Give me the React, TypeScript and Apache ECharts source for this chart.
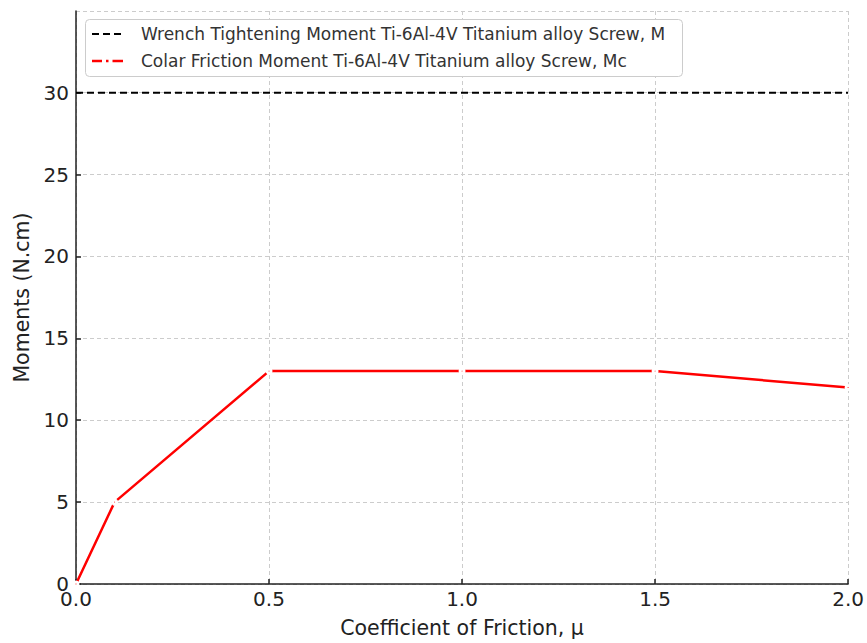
import React, { useEffect, useRef } from "react";
import * as echarts from "echarts";

const frictionX = [0.0, 0.1, 0.5, 1.0, 1.5, 2.0];
const colarMoment = [0, 5, 13, 13, 13, 12];
const wrenchX = [0.0, 2.0];
const wrenchMoment = [30, 30];
const seriesNames = [
  "Wrench Tightening Moment Ti-6Al-4V Titanium alloy Screw, M",
  "Colar Friction Moment Ti-6Al-4V Titanium alloy Screw, Mc",
];

const FONT = "DejaVu Sans";

export default function App() {
  const ref = useRef<HTMLDivElement>(null);
  useEffect(() => {
    if (!ref.current) return;
    const chart = echarts.init(ref.current, undefined, { renderer: "svg" });
    const legendText = { fontFamily: FONT, fontSize: 17, fill: "#333333" };
    chart.setOption({
      animation: false,
      backgroundColor: "#ffffff",
      textStyle: { fontFamily: FONT },
      grid: { left: 76, right: 18, top: 11, bottom: 58, containLabel: false },
      graphic: [
        {
          type: "rect",
          shape: { x: 85.5, y: 19.5, width: 597, height: 57, r: 4 },
          style: { fill: "#ffffff", stroke: "#cccccc", lineWidth: 1 },
          z: 100,
        },
        {
          type: "line",
          shape: { x1: 92, y1: 34, x2: 123, y2: 34 },
          style: { stroke: "#000000", lineWidth: 2, lineDash: [7, 4] },
          z: 101,
        },
        {
          type: "line",
          shape: { x1: 92, y1: 61, x2: 102, y2: 61 },
          style: { stroke: "#ff0000", lineWidth: 2.5 },
          z: 101,
        },
        {
          type: "line",
          shape: { x1: 106, y1: 61, x2: 108.5, y2: 61 },
          style: { stroke: "#ff0000", lineWidth: 2.5 },
          z: 101,
        },
        {
          type: "line",
          shape: { x1: 112.5, y1: 61, x2: 123, y2: 61 },
          style: { stroke: "#ff0000", lineWidth: 2.5 },
          z: 101,
        },
        {
          type: "text",
          x: 141,
          y: 34,
          style: { ...legendText, text: seriesNames[0], verticalAlign: "middle" },
          z: 101,
        },
        {
          type: "text",
          x: 141,
          y: 61,
          style: { ...legendText, text: seriesNames[1], verticalAlign: "middle" },
          z: 101,
        },
      ],
      xAxis: {
        type: "value",
        min: 0,
        max: 2,
        interval: 0.5,
        name: "Coefficient of Friction, μ",
        nameLocation: "middle",
        nameGap: 33,
        nameTextStyle: { fontFamily: FONT, fontSize: 20.5, color: "#222" },
        axisLine: { show: true, lineStyle: { color: "#222", width: 1.5 } },
        axisTick: { show: true, inside: true, length: 5, lineStyle: { color: "#222", width: 1.5 } },
        axisLabel: {
          fontFamily: FONT,
          fontSize: 20,
          color: "#222",
          margin: 5,
          formatter: (v: number) => v.toFixed(1),
        },
        splitLine: { show: true, lineStyle: { color: "#cccccc", type: [4, 3], width: 1 } },
      },
      yAxis: {
        type: "value",
        min: 0,
        max: 34.99,
        interval: 5,
        name: "Moments (N.cm)",
        nameLocation: "middle",
        nameGap: 39,
        nameRotate: 90,
        nameTextStyle: { fontFamily: FONT, fontSize: 20.5, color: "#222" },
        axisLine: { show: true, lineStyle: { color: "#222", width: 1.5 } },
        axisTick: { show: true, inside: true, length: 5, lineStyle: { color: "#222", width: 1.5 } },
        axisLabel: {
          fontFamily: FONT,
          fontSize: 20,
          color: "#222",
          margin: 7,
          showMaxLabel: false,
          formatter: (v: number) => (Math.abs(v % 5) < 1e-6 ? String(v) : ""),
        },
        splitLine: { show: true, lineStyle: { color: "#cccccc", type: [4, 3], width: 1 } },
      },
      series: [
        {
          name: seriesNames[0],
          type: "line",
          data: wrenchX.map((x, i) => [x, wrenchMoment[i]]),
          symbol: "none",
          lineStyle: { color: "#000000", width: 2, type: [7, 4] },
          itemStyle: { color: "#000000" },
          z: 3,
        },
        {
          name: seriesNames[1],
          type: "line",
          data: frictionX.map((x, i) => [x, colarMoment[i]]),
          symbol: "circle",
          symbolSize: 4,
          showSymbol: true,
          lineStyle: { color: "#ff0000", width: 2.5 },
          itemStyle: { color: "#ff0000", borderColor: "#ffffff", borderWidth: 3 },
          z: 4,
        },
      ],
    });
    return () => chart.dispose();
  }, []);
  return <div ref={ref} style={{ width: 867, height: 643, position: "absolute", left: 0, top: 0 }} />;
}
